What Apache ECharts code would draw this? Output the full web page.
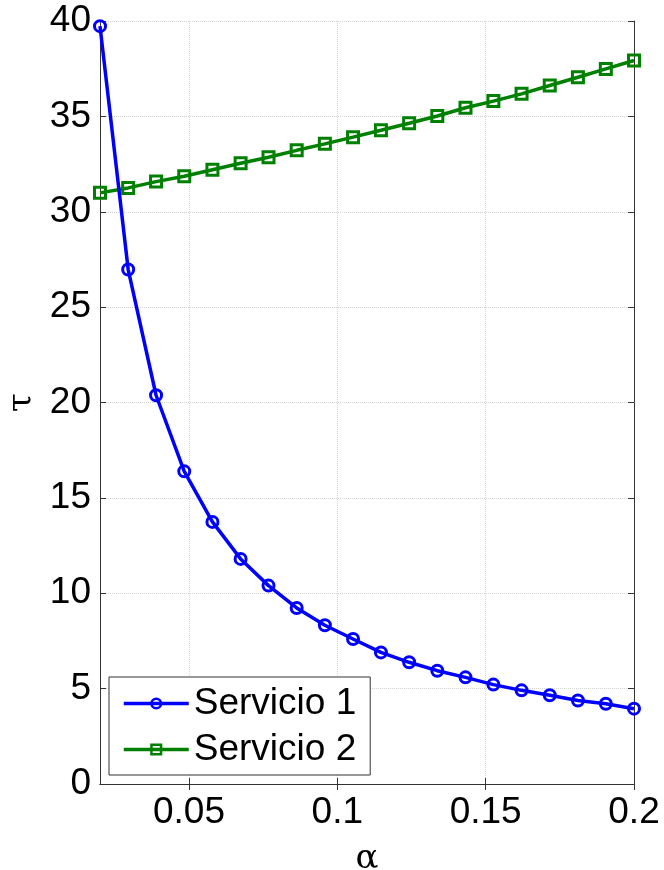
<!DOCTYPE html>
<html>
<head>
<meta charset="utf-8">
<script src="https://cdn.jsdelivr.net/npm/echarts@6/dist/echarts.min.js"></script>
<style>
html,body{margin:0;padding:0;background:#fff;}
#chart{width:664px;height:870px;}
</style>
</head>
<body>
<div id="chart"></div>
<script>
const alphaValues = [0.02, 0.0295, 0.0389, 0.0484, 0.0579, 0.0674, 0.0768, 0.0863, 0.0958, 0.1053,
                     0.1147, 0.1242, 0.1337, 0.1432, 0.1526, 0.1621, 0.1716, 0.1811, 0.1905, 0.2];
const servicio1 = [39.73, 26.97, 20.38, 16.39, 13.74, 11.80, 10.40, 9.23, 8.32, 7.60,
                   6.90, 6.38, 5.94, 5.59, 5.21, 4.91, 4.65, 4.38, 4.21, 3.95];
const servicio2 = [30.99, 31.25, 31.58, 31.86, 32.20, 32.54, 32.86, 33.22, 33.56, 33.91,
                   34.27, 34.64, 35.02, 35.45, 35.80, 36.18, 36.62, 37.05, 37.49, 37.93];
const xTicks = [0.05, 0.1, 0.15, 0.2];
const seriesNames = ['Servicio 1', 'Servicio 2'];
const xName = 'α';
const yName = 'τ';

const sansFont = '"Liberation Sans", Arial, sans-serif';
const serifFont = '"DejaVu Serif", "Liberation Serif", serif';
const axisColor = '#333333';
const gridColor = '#d4d4d4';

function pairs(xs, ys) { return xs.map((x, i) => [x, ys[i]]); }

const chart = echarts.init(document.getElementById('chart'), null, {renderer: 'canvas'});
chart.setOption({
  animation: false,
  backgroundColor: '#ffffff',
  grid: {left: 100, right: 30, top: 21, bottom: 86, containLabel: false, outerBoundsMode: 'none'},
  legend: {
    data: seriesNames,
    orient: 'vertical',
    left: 109, top: 677,
    itemWidth: 65, itemHeight: 12, itemGap: 9,
    padding: [8, 14, 7, 13],
    borderColor: axisColor, borderWidth: 1,
    backgroundColor: '#ffffff',
    lineStyle: {width: 3.5},
    itemStyle: {borderWidth: 2.5},
    textStyle: {fontSize: 37, fontFamily: sansFont, color: '#000'}
  },
  xAxis: [{
    type: 'value', min: 0.02, max: 0.2, position: 'bottom',
    name: xName, nameLocation: 'middle', nameGap: 58,
    nameTextStyle: {fontSize: 34, fontFamily: serifFont, color: '#000'},
    axisLine: {show: true, lineStyle: {color: axisColor, width: 1}},
    axisTick: {show: true, inside: true, length: 6, customValues: xTicks, lineStyle: {color: axisColor}},
    axisLabel: {customValues: xTicks, fontSize: 37, fontFamily: sansFont, color: '#000', margin: 10,
                formatter: v => String(+v.toFixed(2))},
    splitLine: {show: true, lineStyle: {color: gridColor, type: 'dotted', width: 1}}
  }, {
    type: 'value', min: 0.02, max: 0.2, position: 'top',
    axisLine: {show: true, lineStyle: {color: axisColor, width: 1}},
    axisTick: {show: true, inside: true, length: 6, customValues: xTicks, lineStyle: {color: axisColor}},
    axisLabel: {show: false}, splitLine: {show: false}
  }],
  yAxis: [{
    type: 'value', min: 0, max: 40, interval: 5, position: 'left',
    name: yName, nameLocation: 'middle', nameGap: 56, nameRotate: 90,
    nameTextStyle: {fontSize: 34, fontFamily: serifFont, color: '#000'},
    axisLine: {show: true, lineStyle: {color: axisColor, width: 1}},
    axisTick: {show: true, inside: true, length: 6, lineStyle: {color: axisColor}},
    axisLabel: {fontSize: 37, fontFamily: sansFont, color: '#000', margin: 9},
    splitLine: {show: true, lineStyle: {color: gridColor, type: 'dotted', width: 1}}
  }, {
    type: 'value', min: 0, max: 40, interval: 5, position: 'right',
    axisLine: {show: true, lineStyle: {color: axisColor, width: 1}},
    axisTick: {show: true, inside: true, length: 6, lineStyle: {color: axisColor}},
    axisLabel: {show: false}, splitLine: {show: false}
  }],
  series: [{
    name: seriesNames[0], type: 'line', xAxisIndex: 0, yAxisIndex: 0,
    data: pairs(alphaValues, servicio1),
    symbol: 'circle', symbolSize: 11,
    lineStyle: {color: '#0000ff', width: 3.5},
    itemStyle: {color: 'rgba(0,0,0,0)', borderColor: '#0000ff', borderWidth: 3},
    z: 3
  }, {
    name: seriesNames[1], type: 'line', xAxisIndex: 0, yAxisIndex: 0,
    data: pairs(alphaValues, servicio2),
    symbol: 'rect', symbolSize: 11,
    lineStyle: {color: '#008000', width: 3.5},
    itemStyle: {color: 'rgba(0,0,0,0)', borderColor: '#008000', borderWidth: 3},
    z: 2
  }]
});
</script>
</body>
</html>
